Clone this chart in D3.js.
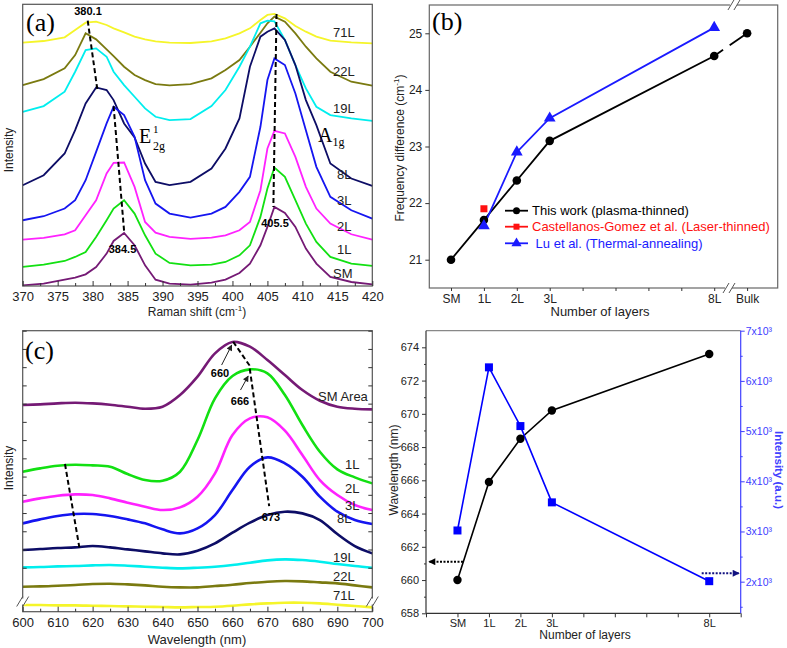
<!DOCTYPE html>
<html>
<head>
<meta charset="utf-8">
<script src="https://cdn.jsdelivr.net/npm/d3@7"></script>
<style>
  body { margin: 0; background: #fff; }
  text { font-family: "Liberation Sans", Arial, sans-serif; }
  .serif { font-family: "Liberation Serif", "Times New Roman", serif; }
</style>
</head>
<body>
<svg id="fig" width="787" height="648"></svg>
<script>
// ---------- panel (a): Raman spectra, stacked curves (a.u.)
const ramanShift = [370, 373, 376, 377.5, 379, 380.5, 382, 383, 384.5, 386, 387.5, 389, 391, 394,
  397, 399, 401, 402.5, 404, 405, 406, 407.5, 409, 410.5, 412, 414, 417, 420];
const ramanSM = [2, 7, 19, 25, 35, 57, 97, 135, 159, 122, 62, 19, 7, 4, 10, 19, 39, 67, 122, 177, 237, 219, 177, 112, 67, 27, 12, 5];
const raman1L = [57, 64, 75, 87, 102, 147, 197, 232, 257, 217, 152, 97, 69, 62, 64, 72, 92, 122, 207, 292, 355, 327, 257, 187, 132, 87, 67, 60];
const raman2L = [139, 144, 155, 167, 212, 257, 337, 369, 370, 297, 192, 160, 147, 141, 145, 152, 167, 192, 287, 412, 465, 457, 387, 297, 232, 187, 155, 139];
const raman3L = [197, 209, 232, 257, 317, 402, 487, 537, 512, 447, 317, 247, 217, 205, 217, 237, 282, 327, 477, 617, 682, 662, 577, 467, 357, 267, 227, 202];
const raman8L = [302, 332, 397, 467, 547, 595, 587, 557, 487, 445, 367, 312, 302, 312, 352, 412, 502, 657, 747, 762, 772, 737, 662, 557, 482, 367, 322, 300];
const raman19L = [522, 539, 582, 642, 707, 712, 687, 642, 602, 567, 532, 507, 497, 500, 539, 587, 657, 717, 787, 795, 793, 737, 662, 592, 537, 512, 502, 495];
const raman22L = [602, 620, 652, 692, 757, 739, 709, 689, 657, 632, 617, 605, 601, 605, 622, 647, 677, 717, 759, 787, 807, 792, 757, 717, 682, 642, 612, 600];
const raman71L = [729, 734, 745, 767, 789, 792, 782, 772, 760, 747, 739, 733, 729, 728, 733, 742, 757, 772, 797, 812, 815, 802, 779, 762, 747, 735, 730, 727];
const ramanTicks = [370, 375, 380, 385, 390, 395, 400, 405, 410, 415, 420];

// ---------- panel (b): frequency difference vs layers
const layerNames = ["SM", "1L", "2L", "3L", "8L", "Bulk"];
const layerPos = [0, 1, 2, 3, 8, 9];
const freqThisWork = [21.0, 21.7, 22.4, 23.1, 24.6, 25.0];
const castellanosPos = [1];
const freqCastellanos = [21.9];
const luPos = [1, 2, 3, 8];
const freqLu = [21.6, 22.9, 23.5, 25.1];

// ---------- panel (c): PL spectra, stacked curves (a.u.)
const wavelength = [600, 605, 610, 615, 620, 625, 630, 635, 640, 645, 650, 655, 660, 665, 670, 675, 680, 685, 690, 695, 700];
const plSM = [620, 622, 625, 627, 625, 621, 615, 609, 615, 650, 705, 775, 809, 795, 755, 710, 665, 633, 615, 609, 607];
const pl1L = [420, 430, 438, 441, 439, 435, 413, 395, 393, 420, 515, 640, 707, 727, 715, 650, 560, 480, 427, 403, 385];
const pl2L = [330, 340, 348, 352, 350, 340, 327, 315, 305, 313, 345, 415, 530, 580, 583, 543, 470, 395, 350, 320, 305];
const pl3L = [265, 277, 287, 293, 293, 287, 277, 265, 247, 235, 250, 290, 365, 435, 463, 445, 405, 345, 300, 275, 263];
const pl8L = [185, 188, 191, 193, 197, 193, 187, 181, 175, 172, 183, 205, 237, 267, 290, 300, 295, 275, 233, 197, 175];
const pl19L = [133, 134, 136, 137, 139, 140, 138, 135, 132, 130, 132, 135, 140, 147, 154, 157, 155, 150, 143, 137, 132];
const pl22L = [75, 76, 78, 80, 83, 84, 82, 79, 75, 73, 73, 77, 81, 86, 90, 92, 91, 88, 85, 79, 73];
const pl71L = [20, 20, 19, 19, 18, 17, 16, 15, 14, 13, 14, 15, 18, 22, 25, 27, 27, 25, 21, 17, 13];

// ---------- panel (d): PL peak position and intensity
const plLayerNames = ["SM", "1L", "2L", "3L", "8L"];
const plLayerPos = [0, 1, 2, 3, 8];
const peakWavelength = [660.0, 665.9, 668.5, 670.2, 673.6];
const peakIntensity = [3020, 6270, 5100, 3580, 2010];

const colors = {
  SM: "#751a75", "1L": "#12e012", "2L": "#ff22ff", "3L": "#1515f0",
  "8L": "#0d0d66", "19L": "#00eeee", "22L": "#7a7a10", "71L": "#f5f52a"
};

const svg = d3.select("#fig");
const defs = svg.append("defs");
function arrowMarker(id, color, w, h) {
  defs.append("marker").attr("id", id)
    .attr("viewBox", "0 0 10 10").attr("refX", 9).attr("refY", 5)
    .attr("markerWidth", w).attr("markerHeight", h)
    .attr("markerUnits", "userSpaceOnUse").attr("orient", "auto")
    .append("path").attr("d", "M0,0L10,5L0,10Z").attr("fill", color);
}
arrowMarker("arrBlack", "#000", 8, 7);
arrowMarker("arrNavy", "#111180", 8, 7);
arrowMarker("arrThin", "#222", 7, 6);

function styleTicks(g, size, color) {
  g.selectAll("text").attr("font-size", size).attr("fill", color || "#222");
  g.selectAll("line").attr("stroke", color || "#333");
  g.select(".domain").remove();
}

// ================= panel (a)
const xa = d3.scaleLinear().domain([370, 420]).range([22.7, 372.3]);
const ya = d3.scaleLinear().domain([0, 844]).range([286, 4.3]);
const ga = svg.append("g");

const ramanSeries = [
  ["71L", raman71L], ["22L", raman22L], ["19L", raman19L], ["8L", raman8L],
  ["3L", raman3L], ["2L", raman2L], ["1L", raman1L], ["SM", ramanSM]
];
const lineA = d3.line().x((d, i) => xa(ramanShift[i])).y(d => ya(d));
ga.selectAll("path.raman").data(ramanSeries).join("path")
  .attr("class", "raman")
  .attr("d", d => lineA(d[1]))
  .attr("fill", "none").attr("stroke", d => colors[d[0]]).attr("stroke-width", 1.8);

ga.append("rect").attr("x", 22.7).attr("y", 4.3).attr("width", 349.6).attr("height", 281.7)
  .attr("fill", "none").attr("stroke", "#555").attr("stroke-width", 1.2);

ga.append("g").attr("transform", "translate(0,286)")
  .call(d3.axisBottom(xa).tickValues(d3.range(372.5, 420, 5)).tickSize(-3).tickFormat(""))
  .call(g => styleTicks(g, 13));
ga.append("g").attr("transform", "translate(0,286)")
  .call(d3.axisBottom(xa).tickValues(ramanTicks).tickSize(-5).tickPadding(6))
  .call(g => styleTicks(g, 13));

const dashA = [
  [[379.3, 795], [380.7, 585]],
  [[383.0, 539], [384.5, 165]],
  [[406.3, 815], [405.85, 237]]
];
ga.selectAll("line.dash").data(dashA).join("line").attr("class", "dash")
  .attr("x1", d => xa(d[0][0])).attr("y1", d => ya(d[0][1]))
  .attr("x2", d => xa(d[1][0])).attr("y2", d => ya(d[1][1]))
  .attr("stroke", "#000").attr("stroke-width", 2).attr("stroke-dasharray", "5,3");

const ramanLabels = { "71L": 37, "22L": 76, "19L": 113, "8L": 179, "3L": 205, "2L": 231, "1L": 254, "SM": 278 };
Object.entries(ramanLabels).forEach(([k, y]) => {
  ga.append("text").attr("x", k.length > 2 || k === "SM" ? 333 : 337).attr("y", y)
    .attr("font-size", 13).attr("fill", "#222").text(k);
});
[["380.1", 88, 15], ["384.5", 122.5, 253], ["405.5", 275, 227]].forEach(([t, x, y]) => {
  ga.append("text").attr("x", x).attr("y", y).attr("text-anchor", "middle")
    .attr("font-size", 11).attr("font-weight", "bold").text(t);
});
ga.append("text").attr("class", "serif").attr("x", 26).attr("y", 31).attr("font-size", 26).text("(a)");
const e2g = ga.append("text").attr("class", "serif").attr("x", 139).attr("y", 143).attr("font-size", 20);
e2g.append("tspan").text("E");
e2g.append("tspan").attr("x", 153).attr("y", 133).attr("font-size", 11).text("1");
e2g.append("tspan").attr("x", 153).attr("y", 150).attr("font-size", 12).text("2g");
const a1g = ga.append("text").attr("class", "serif").attr("x", 318).attr("y", 142).attr("font-size", 20);
a1g.append("tspan").text("A");
a1g.append("tspan").attr("y", 146).attr("font-size", 12).text("1g");

ga.append("text").attr("transform", "translate(13,150) rotate(-90)").attr("text-anchor", "middle")
  .attr("font-size", 12).attr("fill", "#222").text("Intensity");
const xlabA = ga.append("text").attr("x", 197).attr("y", 316).attr("text-anchor", "middle")
  .attr("font-size", 12).attr("fill", "#222");
xlabA.append("tspan").text("Raman shift (cm");
xlabA.append("tspan").attr("dy", -5).attr("font-size", 8).text("-1");
xlabA.append("tspan").attr("dy", 5).text(")");

// ================= panel (b)
const xb = d3.scaleLinear().domain([-0.66, 9.93]).range([429.3, 777.7]);
const yb = d3.scaleLinear().domain([20.5, 25.5]).range([288, 5]);
const gb = svg.append("g");

gb.append("rect").attr("x", 429.3).attr("y", 5).attr("width", 348.4).attr("height", 283)
  .attr("fill", "none").attr("stroke", "#666").attr("stroke-width", 1.2);
gb.append("g").attr("transform", "translate(429.3,0)")
  .call(d3.axisLeft(yb).tickValues([21, 22, 23, 24, 25]).tickSize(4).tickPadding(3).tickFormat(d3.format("d")))
  .call(g => styleTicks(g, 12));
gb.append("g").attr("transform", "translate(0,288)")
  .call(d3.axisBottom(xb).tickValues([0, 1, 2, 3, 4, 5, 6, 7, 8, 9]).tickSize(3).tickPadding(3)
    .tickFormat(d => layerPos.includes(d) ? layerNames[layerPos.indexOf(d)] : ""))
  .call(g => styleTicks(g, 12));

// axis breaks
function breakMark(g, x, y) {
  g.append("rect").attr("x", x - 4).attr("y", y - 3).attr("width", 7).attr("height", 6).attr("fill", "#fff");
  [-3, 3].forEach(o => g.append("line")
    .attr("x1", x + o - 3).attr("y1", y + 5).attr("x2", x + o + 3).attr("y2", y - 5)
    .attr("stroke", "#555").attr("stroke-width", 1));
}
breakMark(gb, xb(8.45), 288);
breakMark(gb, xb(8.6), 5);

const lineB = d3.line().x(d => xb(d[0])).y(d => yb(d[1]));
const thisWork = layerPos.map((p, i) => [p, freqThisWork[i]]);
gb.append("path").attr("d", lineB(thisWork.slice(0, 5)))
  .attr("fill", "none").attr("stroke", "#000").attr("stroke-width", 1.8);
const tail = gb.append("path").attr("d", lineB(thisWork.slice(4)))
  .attr("fill", "none").attr("stroke", "#000").attr("stroke-width", 1.8);
const tl = tail.node().getTotalLength();
tail.attr("stroke-dasharray", `${tl * 0.27},${tl * 0.2},${tl}`);

const luData = luPos.map((p, i) => [p, freqLu[i]]);
gb.append("path").attr("d", lineB(luData))
  .attr("fill", "none").attr("stroke", "#1a1aff").attr("stroke-width", 1.8);
gb.selectAll("circle.tw").data(thisWork).join("circle").attr("class", "tw")
  .attr("cx", d => xb(d[0])).attr("cy", d => yb(d[1])).attr("r", 4.3).attr("fill", "#000");
const tri = d3.symbol(d3.symbolTriangle).size(60);
gb.selectAll("path.lu").data(luData).join("path").attr("class", "lu")
  .attr("transform", d => `translate(${xb(d[0])},${yb(d[1])})`).attr("d", tri).attr("fill", "#1a1aff");
gb.selectAll("rect.cg").data(castellanosPos.map((p, i) => [p, freqCastellanos[i]])).join("rect").attr("class", "cg")
  .attr("x", d => xb(d[0]) - 3.5).attr("y", d => yb(d[1]) - 3.5).attr("width", 7).attr("height", 7).attr("fill", "#ff1010");

const legendB = [
  ["This work (plasma-thinned)", "#000", "circle", 210.7, 532],
  ["Castellanos-Gomez et al. (Laser-thinned)", "#ff1010", "square", 226.7, 532],
  [" Lu et al. (Thermal-annealing)", "#1a1aff", "tri", 243.3, 532]
];
legendB.forEach(([t, c, m, y, tx]) => {
  gb.append("line").attr("x1", 505).attr("x2", 528).attr("y1", y).attr("y2", y)
    .attr("stroke", c).attr("stroke-width", 1.8);
  if (m === "circle") gb.append("circle").attr("cx", 516.5).attr("cy", y).attr("r", 3.5).attr("fill", c);
  if (m === "square") gb.append("rect").attr("x", 513.5).attr("y", y - 3).attr("width", 6).attr("height", 6).attr("fill", c);
  if (m === "tri") gb.append("path").attr("transform", `translate(516.5,${y})`)
    .attr("d", d3.symbol(d3.symbolTriangle).size(45)).attr("fill", c);
  gb.append("text").attr("x", tx).attr("y", y + 4.5).attr("font-size", 13).attr("fill", c)
    .attr("xml:space", "preserve").style("white-space", "pre").text(t);
});
gb.append("text").attr("class", "serif").attr("x", 432).attr("y", 30).attr("font-size", 26).text("(b)");
const ylabB = gb.append("text").attr("transform", "translate(404,148) rotate(-90)")
  .attr("text-anchor", "middle").attr("font-size", 12).attr("fill", "#222");
ylabB.append("tspan").text("Frequency difference (cm");
ylabB.append("tspan").attr("dy", -5).attr("font-size", 8).text("-1");
ylabB.append("tspan").attr("dy", 5).text(")");
gb.append("text").attr("x", 600).attr("y", 316).attr("text-anchor", "middle")
  .attr("font-size", 13).attr("fill", "#222").text("Number of layers");

// ================= panel (c)
const xc = d3.scaleLinear().domain([600, 700]).range([22.7, 372.3]);
const yc = d3.scaleLinear().domain([0, 843]).range([611.7, 330.7]);
const gc = svg.append("g");

const plSeries = [
  ["71L", pl71L], ["22L", pl22L], ["19L", pl19L], ["8L", pl8L],
  ["3L", pl3L], ["2L", pl2L], ["1L", pl1L], ["SM", plSM]
];
const lineC = d3.line().x((d, i) => xc(wavelength[i])).y(d => yc(d)).curve(d3.curveCatmullRom);
gc.selectAll("path.pl").data(plSeries).join("path").attr("class", "pl")
  .attr("d", d => lineC(d[1]))
  .attr("fill", "none").attr("stroke", d => colors[d[0]]).attr("stroke-width", 2.6);

gc.append("rect").attr("x", 22.7).attr("y", 330.7).attr("width", 349.6).attr("height", 281)
  .attr("fill", "none").attr("stroke", "#555").attr("stroke-width", 1.2);
gc.append("g").attr("transform", "translate(0,611.7)")
  .call(d3.axisBottom(xc).tickValues(d3.range(605, 700, 10)).tickSize(-3).tickFormat(""))
  .call(g => styleTicks(g, 13));
gc.append("g").attr("transform", "translate(0,611.7)")
  .call(d3.axisBottom(xc).tickValues(d3.range(600, 701, 10)).tickSize(-5).tickPadding(6))
  .call(g => styleTicks(g, 13));
const yTicksC = d3.range(843, 100, -54.7);
gc.append("g").attr("transform", "translate(22.7,0)")
  .call(d3.axisLeft(yc).tickValues(yTicksC).tickSize(-4).tickFormat(""))
  .call(g => styleTicks(g, 13));
gc.append("g").attr("transform", "translate(372.3,0)")
  .call(d3.axisRight(yc).tickValues(yTicksC).tickSize(-4).tickFormat(""))
  .call(g => styleTicks(g, 13));
breakMark(gc, 22.7, 601.5);
breakMark(gc, 372.3, 601.5);

const dashC = [
  [[660.2, 810], [664.8, 740], [670.5, 317]],
  [[612.1, 443], [616.2, 193]]
];
const lineDash = d3.line().x(d => xc(d[0])).y(d => yc(d[1]));
gc.selectAll("path.dash").data(dashC).join("path").attr("class", "dash")
  .attr("d", lineDash).attr("fill", "none")
  .attr("stroke", "#000").attr("stroke-width", 2).attr("stroke-dasharray", "5,3");
[[[656.9, 740], [659.8, 800]], [[662.3, 665], [664.5, 707]]].forEach(([a, b]) => {
  gc.append("line").attr("x1", xc(a[0])).attr("y1", yc(a[1])).attr("x2", xc(b[0])).attr("y2", yc(b[1]))
    .attr("stroke", "#222").attr("stroke-width", 1).attr("marker-end", "url(#arrThin)");
});
[["660", 220, 377], ["666", 240, 405], ["673", 271, 521]].forEach(([t, x, y]) => {
  gc.append("text").attr("x", x).attr("y", y).attr("text-anchor", "middle")
    .attr("font-size", 11).attr("font-weight", "bold").text(t);
});
const plLabels = [["SM Area", 318, 401], ["1L", 345, 469], ["2L", 345, 493], ["3L", 345, 510],
  ["8L", 337, 523], ["19L", 333, 562], ["22L", 333, 581], ["71L", 333, 600]];
plLabels.forEach(([t, x, y]) => {
  gc.append("text").attr("x", x).attr("y", y).attr("font-size", 13).attr("fill", "#222").text(t);
});
gc.append("text").attr("class", "serif").attr("x", 25).attr("y", 359).attr("font-size", 26).text("(c)");
gc.append("text").attr("transform", "translate(13,468) rotate(-90)").attr("text-anchor", "middle")
  .attr("font-size", 12).attr("fill", "#222").text("Intensity");
gc.append("text").attr("x", 197).attr("y", 644).attr("text-anchor", "middle")
  .attr("font-size", 13).attr("fill", "#222").text("Wavelength (nm)");

// ================= panel (d)
const xd = d3.scaleLinear().domain([-1, 9]).range([426, 740.7]);
const ydL = d3.scaleLinear().domain([658, 675]).range([613.3, 330.7]);
const ydR = d3.scaleLinear().domain([1370, 7000]).range([613.3, 330.7]);
const gd = svg.append("g");
const blueAxis = "#4040ff";

gd.append("line").attr("x1", 426).attr("x2", 740.7).attr("y1", 330.7).attr("y2", 330.7)
  .attr("stroke", "#888").attr("stroke-width", 1.2);
gd.append("line").attr("x1", 426).attr("x2", 426).attr("y1", 330.7).attr("y2", 613.3)
  .attr("stroke", "#333").attr("stroke-width", 1.2);
gd.append("line").attr("x1", 426).attr("x2", 740.7).attr("y1", 613.3).attr("y2", 613.3)
  .attr("stroke", "#333").attr("stroke-width", 1.2);
gd.append("line").attr("x1", 740.7).attr("x2", 740.7).attr("y1", 330.7).attr("y2", 613.3)
  .attr("stroke", blueAxis).attr("stroke-width", 1.2);

gd.append("g").attr("transform", "translate(426,0)")
  .call(d3.axisLeft(ydL).tickValues(d3.range(659, 675, 2)).tickSize(2).tickFormat(""))
  .call(g => styleTicks(g, 11));
gd.append("g").attr("transform", "translate(426,0)")
  .call(d3.axisLeft(ydL).tickValues(d3.range(658, 675, 2)).tickSize(4).tickPadding(3))
  .call(g => styleTicks(g, 11));
gd.append("g").attr("transform", "translate(740.7,0)")
  .call(d3.axisRight(ydR).tickValues(d3.range(1500, 7000, 1000)).tickSize(2).tickFormat(""))
  .call(g => styleTicks(g, 10.5, blueAxis));
gd.append("g").attr("transform", "translate(740.7,0)")
  .call(d3.axisRight(ydR).tickValues(d3.range(2000, 7001, 1000)).tickSize(4).tickPadding(1)
    .tickFormat(d => (d / 1000) + "x10\u00b3"))
  .call(g => styleTicks(g, 10.5, blueAxis));
gd.append("g").attr("transform", "translate(0,613.3)")
  .call(d3.axisBottom(xd).tickValues(d3.range(-1, 10)).tickSize(4).tickPadding(2)
    .tickFormat(d => plLayerPos.includes(d) ? plLayerNames[plLayerPos.indexOf(d)] : ""))
  .call(g => styleTicks(g, 11));

const wlData = plLayerPos.map((p, i) => [p, peakWavelength[i]]);
const inData = plLayerPos.map((p, i) => [p, peakIntensity[i]]);
gd.append("path").attr("d", d3.line().x(d => xd(d[0])).y(d => ydL(d[1]))(wlData))
  .attr("fill", "none").attr("stroke", "#000").attr("stroke-width", 1.6);
gd.append("path").attr("d", d3.line().x(d => xd(d[0])).y(d => ydR(d[1]))(inData))
  .attr("fill", "none").attr("stroke", "#0000ff").attr("stroke-width", 1.6);
gd.selectAll("circle.wl").data(wlData).join("circle").attr("class", "wl")
  .attr("cx", d => xd(d[0])).attr("cy", d => ydL(d[1])).attr("r", 4.2).attr("fill", "#000");
gd.selectAll("rect.in").data(inData).join("rect").attr("class", "in")
  .attr("x", d => xd(d[0]) - 4).attr("y", d => ydR(d[1]) - 4).attr("width", 8).attr("height", 8).attr("fill", "#0000ff");

gd.append("line").attr("x1", 463).attr("x2", 429).attr("y1", 561.7).attr("y2", 561.7)
  .attr("stroke", "#000").attr("stroke-width", 2).attr("stroke-dasharray", "2,1.5").attr("marker-end", "url(#arrBlack)");
gd.append("line").attr("x1", 701.7).attr("x2", 739).attr("y1", 573.3).attr("y2", 573.3)
  .attr("stroke", "#111180").attr("stroke-width", 2).attr("stroke-dasharray", "2,1.5").attr("marker-end", "url(#arrNavy)");

gd.append("text").attr("transform", "translate(398,470) rotate(-90)").attr("text-anchor", "middle")
  .attr("font-size", 12).attr("fill", "#222").text("Wavelength (nm)");
gd.append("text").attr("transform", "translate(775,470) rotate(90)").attr("text-anchor", "middle")
  .attr("font-size", 11.5).attr("font-weight", "bold").attr("fill", blueAxis).text("Intensity (a.u.)");
gd.append("text").attr("x", 585).attr("y", 639).attr("text-anchor", "middle")
  .attr("font-size", 12).attr("fill", "#222").text("Number of layers");
</script>
</body>
</html>
